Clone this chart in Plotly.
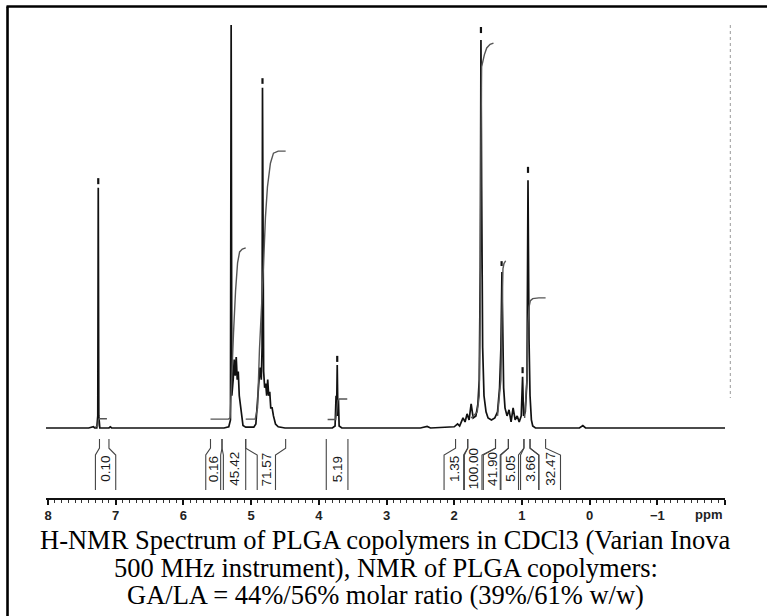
import plotly.graph_objects as go

# ---------------- data ----------------
# 1H spectrum trace (chemical shift in ppm, relative intensity, tallest = 100)
spec_ppm = [8.03, 7.40, 7.33, 7.31, 7.28, 7.265, 7.258, 7.25, 7.235, 7.10, 7.08, 7.06,
            5.60, 5.40, 5.33, 5.305, 5.295, 5.285, 5.265, 5.25, 5.235, 5.22, 5.205, 5.19,
            5.175, 5.16, 5.14, 5.12, 5.08,
            4.96, 4.93, 4.905, 4.885, 4.87, 4.85, 4.838, 4.832, 4.826, 4.815, 4.80, 4.785,
            4.77, 4.755, 4.74, 4.725, 4.71, 4.69, 4.67, 4.64, 4.60, 4.50,
            3.80, 3.76, 3.745, 3.738, 3.728, 3.718, 3.71, 3.70, 3.66,
            2.50, 2.40, 2.35,
            2.00, 1.95, 1.92, 1.87, 1.84, 1.81, 1.78, 1.75, 1.72, 1.68, 1.65, 1.63, 1.615,
            1.605, 1.595, 1.58, 1.56, 1.53, 1.50, 1.45, 1.40, 1.36, 1.33, 1.31, 1.295, 1.285,
            1.27, 1.25, 1.22, 1.19, 1.16, 1.13, 1.10, 1.07, 1.04, 1.01, 0.99, 0.975, 0.95,
            0.925, 0.91, 0.895, 0.88, 0.86, 0.84, 0.80, 0.15, 0.10, 0.06, -2.0]
spec_int = [0, 0, 0.3, 0, 0, 3, 59.6, 3, 0, 0, 0.3, 0,
            0, 0, 0.3, 2, 100, 8, 12, 17, 13, 17.6, 12, 14,
            8, 6, 2, 0.6, 0.2,
            0.2, 1, 7, 10, 15, 12, 20, 84.4, 20, 14, 10, 11,
            8, 12, 8, 9, 5, 5, 3, 1, 0.3, 0,
            0, 0.5, 8, 3, 15.6, 3, 7, 0.5, 0,
            0, 0.4, 0,
            0.3, 1.0, 0.5, 2.5, 1.5, 3.5, 2, 6, 2.5, 3, 6, 12, 40,
            96.3, 60, 20, 8, 4, 2.5, 2, 2.5, 4, 10, 20, 38.7, 25,
            10, 5, 3, 4.5, 1.5, 5, 2, 3, 1.5, 3, 12.7, 3, 4,
            12, 61.5, 22, 8, 2, 0.5, 0, 0, 0.6, 0, 0]

# integral curves (one list per integral region)
integral_ppm = [
    [7.30, 7.265, 7.255, 7.245, 7.13],
    [5.60, 5.335, 5.31, 5.295, 5.28, 5.26, 5.23, 5.20, 5.17, 5.13, 5.08],
    [5.08, 4.94, 4.905, 4.877, 4.818, 4.788, 4.759, 4.715, 4.67, 4.60, 4.49],
    [3.87, 3.75, 3.735, 3.72, 3.70, 3.58],
    [1.75, 1.66, 1.63, 1.615, 1.605, 1.595, 1.555, 1.52, 1.47, 1.42],
    [1.36, 1.31, 1.297, 1.29, 1.28, 1.265, 1.24],
    [0.96, 0.925, 0.91, 0.895, 0.875, 0.84, 0.75, 0.65],
]
integral_val = [
    [0.3, 0.5, 2.0, 2.3, 2.3],
    [2.2, 2.2, 2.5, 10, 14, 23.6, 34, 41, 43.7, 44.4, 44.7],
    [2.2, 2.2, 5, 19.4, 39.9, 52.4, 59.8, 65.7, 68.2, 68.7, 68.7],
    [2.1, 2.1, 4.5, 6.8, 7.2, 7.2],
    [2.5, 4, 8, 30, 70, 89.6, 92.6, 94.3, 95.2, 95.5],
    [3, 12, 25, 36, 39.5, 40.8, 41.5],
    [2.5, 12, 26, 30, 31.6, 32.1, 32.3, 32.3],
]

# peak-pick marks above the peaks (ppm, lower and upper intensity)
pick_ppm = [7.258, 4.832, 3.728, 1.605, 1.30, 0.99, 0.91]
pick_lo = [60.5, 85.4, 16.4, 98.0, 40.2, 13.6, 63.3]
pick_hi = [62.0, 86.8, 17.9, 99.5, 41.4, 15.1, 64.8]

# integral values and their bracket walls (ppm)
int_labels = ["0.10", "0.16", "45.42", "71.57", "5.19", "1.35",
              "100.00", "41.90", "5.05", "3.66", "32.47"]
wall_top_left = [7.24, 5.60, 5.43, 5.08, 3.89, 1.98, 1.80, 1.39, 1.20, 0.97, 0.88]
wall_top_right = [7.10, 5.43, 5.08, 4.49, 3.57, 1.80, 1.39, 1.20, 0.97, 0.88, 0.65]
wall_bot_left = [7.30, 5.67, 5.41, 4.91, 3.89, 2.15, 1.85, 1.57, 1.31, 1.02, 0.75]
wall_bot_right = [7.00, 5.45, 5.08, 4.64, 3.57, 1.86, 1.59, 1.32, 1.05, 0.75, 0.43]

tick_vals = [8, 7, 6, 5, 4, 3, 2, 1, 0, -1, -2]
tick_text = ["8", "7", "6", "5", "4", "3", "2", "1", "0", "\u22121", ""]

caption_lines = [
    "H-NMR Spectrum of PLGA copolymers in CDCl3 (Varian Inova",
    "500 MHz instrument), NMR of PLGA copolymers:",
    "GA/LA = 44%/56% molar ratio (39%/61% w/w)",
]

# ---------------- layout constants (pixels) ----------------
W, H = 767, 616
ML, MR, MT, MB = 45.5, 42.3, 20, 118
Y_RANGE = [-17.37, 101.24]
plot_h = H - MT - MB


def py(pix):
    """pixel row -> paper y"""
    return (H - MB - pix) / plot_h


def px(pix):
    return (pix - ML) / (W - ML - MR)


fig = go.Figure()

# spectrum
fig.add_trace(go.Scatter(x=spec_ppm, y=spec_int, mode="lines",
                         line=dict(color="#111111", width=1.7),
                         hoverinfo="skip"))

# integrals
ix, iy = [], []
for xs, ys in zip(integral_ppm, integral_val):
    ix += xs + [None]
    iy += ys + [None]
fig.add_trace(go.Scatter(x=ix, y=iy, mode="lines",
                         line=dict(color="#555555", width=1.4), hoverinfo="skip"))

# peak picks
kx, ky = [], []
for p, lo, hi in zip(pick_ppm, pick_lo, pick_hi):
    kx += [p, p, None]
    ky += [lo, hi, None]
fig.add_trace(go.Scatter(x=kx, y=ky, mode="lines",
                         line=dict(color="#111111", width=2.2), hoverinfo="skip"))

# integral brackets
Y_TOP, Y_K1, Y_K2, Y_BOT = -2.7, -5.0, -6.7, -15.4
bx, by = [], []
for tl, tr, bl, brr in zip(wall_top_left, wall_top_right, wall_bot_left, wall_bot_right):
    for t, b in ((tl, bl), (tr, brr)):
        bx += [t, t, b, b, None]
        by += [Y_TOP, Y_K1, Y_K2, Y_BOT, None]
fig.add_trace(go.Scatter(x=bx, y=by, mode="lines",
                         line=dict(color="#444444", width=1.1), hoverinfo="skip"))

for lab, bl, brr in zip(int_labels, wall_bot_left, wall_bot_right):
    fig.add_annotation(x=(bl + brr) / 2, y=-10.2, xref="x", yref="y", text=lab,
                       textangle=-90, showarrow=False,
                       font=dict(family="Liberation Sans Narrow, Arial Narrow, sans-serif",
                                 size=13.5, color="#1a1a1a"))

# ppm unit label
fig.add_annotation(x=-1.75, y=py(505), xref="x", yref="paper", yanchor="top",
                   text="ppm", showarrow=False,
                   font=dict(family="Liberation Sans, Arial, sans-serif", size=13,
                             color="#222222", weight="bold"))

# caption
for i, line in enumerate(caption_lines):
    fig.add_annotation(x=0.5, xref="paper", y=py(540 + 27.5 * i), yref="paper",
                       xanchor="center", yanchor="middle", text=line, showarrow=False,
                       font=dict(family="Liberation Serif, Times New Roman, serif",
                                 size=26.5, color="black"))

# frame (top and left edges of the scanned figure) and dotted reset marks
fig.add_shape(type="line", xref="paper", yref="paper", x0=px(6), x1=px(767),
              y0=py(6.5), y1=py(6.5), line=dict(color="black", width=2.6))
fig.add_shape(type="line", xref="paper", yref="paper", x0=px(7), x1=px(7),
              y0=py(6.5), y1=py(616), line=dict(color="black", width=2.6))
fig.add_shape(type="line", xref="paper", yref="paper", x0=px(730), x1=px(730),
              y0=py(25), y1=py(398), line=dict(color="#999999", width=1, dash="dot"))

fig.update_layout(
    width=W, height=H, margin=dict(l=ML, r=MR, t=MT, b=MB),
    paper_bgcolor="white", plot_bgcolor="white", showlegend=False,
    xaxis=dict(range=[8.03, -2.0], showgrid=False, zeroline=False, showline=True,
               linecolor="#111111", linewidth=1.5, ticks="outside", ticklen=5,
               tickwidth=1.5, tickcolor="#111111", tickvals=tick_vals, ticktext=tick_text,
               tickfont=dict(family="Liberation Sans, Arial, sans-serif", size=13,
                             color="#222222", weight="bold"),
               minor=dict(ticks="outside", dtick=0.1, ticklen=3, tickwidth=1,
                          tickcolor="#333333", showgrid=False)),
    yaxis=dict(range=Y_RANGE, visible=False, showgrid=False, zeroline=False),
)

fig.write_html("out.html", config={"displayModeBar": False},
               post_script="document.body.style.margin='0px';")
